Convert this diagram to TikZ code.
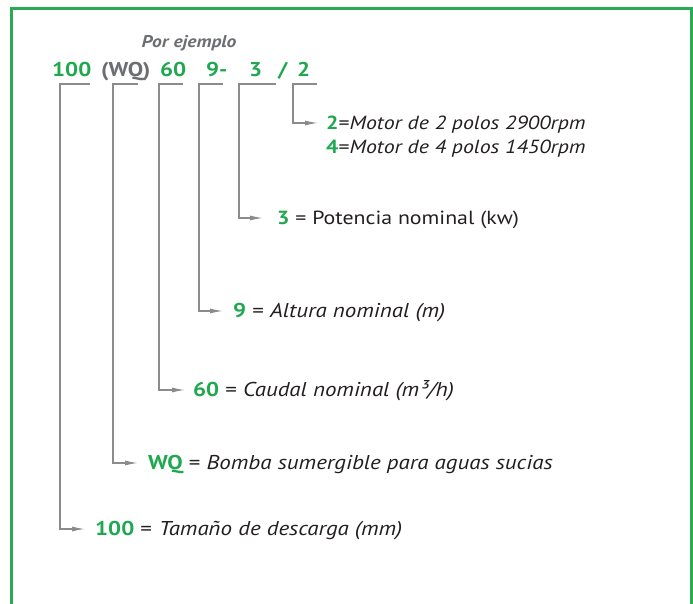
\documentclass[tikz,border=0pt]{standalone}
\usepackage{fontspec}
\setmainfont[FakeStretch=1.15]{PT Sans}
\usetikzlibrary{arrows.meta,calc}
\definecolor{CodeGreen}{HTML}{1FA84F}
\definecolor{FrameGreen}{HTML}{2BAA54}
\definecolor{CodeGray}{HTML}{6D6E71}
\definecolor{LineGray}{HTML}{8A8B8D}
\definecolor{TextDark}{HTML}{231F20}
\newcommand{\gn}[1]{\textcolor{CodeGreen}{\bfseries #1}}

\begin{document}
\begin{tikzpicture}[x=1pt,y=-1pt,
  code/.style={anchor=base west,inner sep=0,font=\fontsize{20}{20}\selectfont\bfseries,text=CodeGreen},
  lbl/.style={anchor=west,inner sep=0,text height=13pt,text depth=0pt,font=\fontsize{20}{20}\selectfont,text=TextDark},
  conn/.style={draw=LineGray,line width=1.3pt,-{Latex[length=13pt,width=5pt]}}]
\useasboundingbox (0,0) rectangle (693,604);
\draw[FrameGreen,line width=3pt] (11,620) -- (11,9) -- (691,9) -- (691,620);

% code of the example
\node[code,anchor=base,text=CodeGray,font=\fontsize{17}{17}\selectfont\bfseries\itshape] (ejemplo) at (189,48) {Por ejemplo};
\node[code] (c100) at (52,77) {100};
\node[code,text=CodeGray] (cwq) at (101,77) {(WQ)};
\node[code] (c60) at (160,77) {60};
\node[code] (c9) at (206,77) {9-};
\node[code] (c3) at (249,77) {3};
\node[code] (cslash) at (278,77) {/};
\node[code] (c2) at (297,77) {2};

% meaning of each part
\node[lbl,font=\fontsize{19}{19}\selectfont] (l2) at (326,123) {\gn{2}=\textit{Motor de 2 polos 2900rpm}};
\node[lbl,font=\fontsize{19}{19}\selectfont] (l4) at (326,147) {\gn{4}=\textit{Motor de 4 polos 1450rpm}};
\node[lbl,font=\fontsize{19}{19}\selectfont] (l3) at (277,218) {\gn{3} = Potencia nominal (kw)};
\node[lbl] (l9) at (233,311) {\gn{9} = \textit{Altura nominal (m)}};
\node[lbl] (l60) at (193,390) {\gn{60} = \textit{Caudal nominal (m³/h)}};
\node[lbl] (lwq) at (148,463) {\gn{WQ} = \textit{Bomba sumergible para aguas sucias}};
\node[lbl] (l100) at (95,529) {\gn{100} =\hspace{7pt}\textit{Tamaño de descarga (mm)}};

% brackets
\foreach \tok/\xl/\xr/\gap in {100/60/90/10, wq/113/138/10, 60/159/183/8, 9/199/223/10, 3/239/276/14, 2/293/317/8}
{
  \coordinate (t\tok) at (\xl,84);
  \coordinate (r\tok) at (\xr,84);
  \draw[conn,shorten >=\gap pt] (r\tok) -- (t\tok) |- (l\tok.west);
}
\end{tikzpicture}
\end{document}
